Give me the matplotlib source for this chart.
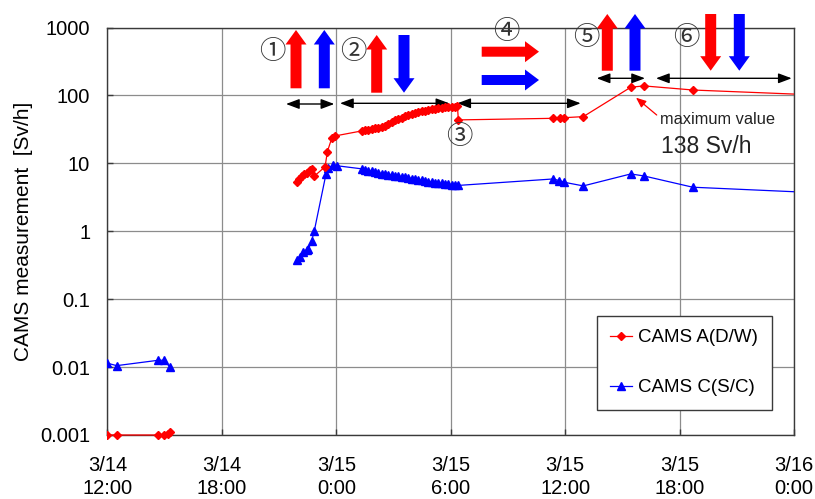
import numpy as np
import matplotlib
matplotlib.use("Agg")
import matplotlib.pyplot as plt
from matplotlib.patches import Polygon
from matplotlib.transforms import Affine2D, Bbox, TransformedBbox

W, H = 815, 499
plt.rcParams["font.family"] = ["Liberation Sans", "DejaVu Sans"]

# Elapsed hours counted from 3/14 0:00; NaN breaks the line where readings are missing
cams_a_hours = [12.0, 12.48, 14.66, 14.98, 15.16, 15.28, np.nan,
                21.92, 22.06, 22.18, 22.32, 22.48, 22.62, 22.71, 22.85, 23.41, 23.53, 23.76, 23.93,
                25.33, 25.50, 25.67, 25.85, 26.03, 26.20, 26.37, 26.55, 26.72, 26.90, 27.07, 27.25,
                27.42, 27.60, 27.77, 27.95, 28.12, 28.30, 28.47, 28.65, 28.82, 29.00, 29.17, 29.35,
                29.52, 29.70, 29.87, 30.05, 30.22, 30.35, 30.40,
                35.38, 35.73, 35.94, 36.95, 39.44, 40.13, 42.72, 49.0]
max_value = 138
cams_a_values = [0.001, 0.001, 0.001, 0.001, 0.00105, 0.0011, np.nan,
                 5.37, 5.9, 6.4, 6.9, 7.3, 8.0, 8.2, 6.5, 8.9, 14.9, 23.4, 25.3,
                 30.0, 30.5, 31.2, 32.0, 32.9, 33.6, 34.3, 35.6, 38.5, 41.2, 43.0, 45.0,
                 47.0, 49.5, 51.6, 53.8, 55.8, 57.3, 58.6, 59.8, 61.2, 62.5, 64.0, 65.2,
                 66.0, 66.6, 67.4, 68.0, 68.6, 69.0, 43.6,
                 46.0, 47.0, 47.0, 48.7, 132.0, max_value, 120.0, 102.0]

cams_c_hours = [12.0, 12.48, 14.66, 14.98, 15.28, np.nan,
                21.92, 22.09, 22.27, 22.45, 22.53, 22.71, 22.84, 23.46, 23.55, 23.84, 24.05,
                25.33, 25.50, 25.67, 25.85, 26.03, 26.20, 26.37, 26.55, 26.72, 26.90, 27.07, 27.25,
                27.42, 27.60, 27.77, 27.95, 28.12, 28.30, 28.47, 28.65, 28.82, 29.00, 29.17, 29.35,
                29.52, 29.70, 29.87, 30.05, 30.22, 30.40,
                35.38, 35.69, 35.94, 36.95, 39.44, 40.13, 42.69, 49.0]
cams_c_values = [0.0114, 0.0105, 0.0126, 0.0126, 0.0099, np.nan,
                 0.377, 0.42, 0.50, 0.53, 0.54, 0.73, 1.0, 7.0, 8.4, 9.5, 9.2,
                 8.3, 8.0, 7.8, 7.6, 7.45, 7.25, 7.05, 6.95, 6.8, 6.7, 6.6, 6.45,
                 6.3, 6.2, 6.1, 5.95, 5.85, 5.75, 5.6, 5.5, 5.4, 5.3, 5.2, 5.12,
                 5.05, 4.98, 4.92, 4.85, 4.8, 4.73,
                 5.89, 5.57, 5.27, 4.65, 6.98, 6.52, 4.45, 3.71]

x_tick_hours = [12, 18, 24, 30, 36, 42, 48]
x_tick_labels = ["3/14\n12:00", "3/14\n18:00", "3/15\n0:00", "3/15\n6:00",
                 "3/15\n12:00", "3/15\n18:00", "3/16\n0:00"]
y_ticks = [0.001, 0.01, 0.1, 1, 10, 100, 1000]
y_tick_labels = ["0.001", "0.01", "0.1", "1", "10", "100", "1000"]

RED = "#ff0000"
BLUE = "#0000ff"
SPINE = "#3a3a3a"
GRID = "#8c8c8c"

fig = plt.figure(figsize=(W / 100, H / 100), dpi=100)
ax = fig.add_axes([107.5 / W, 1 - 435 / H, (794 - 107.5) / W, (435 - 27.5) / H])

line_a, = ax.plot(cams_a_hours, cams_a_values, color=RED, lw=0.9, marker="D", ms=4.3,
                  mec=RED, mfc=RED, label="CAMS A(D/W)", zorder=4)
line_c, = ax.plot(cams_c_hours, cams_c_values, color=BLUE, lw=0.9, marker="^", ms=6.0,
                  mec=BLUE, mfc=BLUE, label="CAMS C(S/C)", zorder=3)

# clip only at the left/right edges so markers sitting on the bottom axis stay whole
clip_region = TransformedBbox(Bbox([[0, -0.05], [1, 1.05]]), ax.transAxes)
for ln in (line_a, line_c):
    ln.set_clip_path(None)
    ln.set_clip_box(clip_region)

ax.set_yscale("log")
ax.set_xlim(12, 48)
ax.set_ylim(0.001, 1000)
ax.set_xticks(x_tick_hours)
ax.set_xticklabels(x_tick_labels, linespacing=1.3)
ax.set_yticks(y_ticks)
ax.set_yticklabels(y_tick_labels)
ax.yaxis.set_minor_locator(matplotlib.ticker.NullLocator())
ax.tick_params(axis="x", direction="in", length=4, width=1, color=SPINE,
               labelsize=14.5, pad=15, top=False)
ax.tick_params(axis="y", direction="in", length=4, width=1, color=SPINE,
               labelsize=14.5, pad=12.5, right=False)
ax.grid(True, which="major", color=GRID, lw=0.9)
ax.set_axisbelow(True)
for s in ax.spines.values():
    s.set_color(SPINE)
    s.set_linewidth(1.0)

ax.set_ylabel("CAMS measurement  [Sv/h]", fontsize=15)
ax.yaxis.set_label_coords(-0.108, 0.5)

leg = ax.legend(loc="upper left", bbox_to_anchor=(0.7126, 0.2928), borderaxespad=0,
                fontsize=13.5, frameon=True, fancybox=False, edgecolor=SPINE,
                framealpha=1, borderpad=0.72, labelspacing=1.75, handlelength=1.15,
                handletextpad=0.35)
leg.get_frame().set_linewidth(1.0)

# pixel-space transform (origin top-left) for the phase annotations
pix = Affine2D().scale(1.0 / W, -1.0 / H).translate(0, 1) + fig.transFigure


def vertical_arrow(xc, y_start, y_tip, color, sw=5.5, hw=10.5, hl=14.5):
    d = 1 if y_tip > y_start else -1
    yb = y_tip - d * hl
    pts = [(xc, y_tip), (xc + hw, yb), (xc + sw, yb), (xc + sw, y_start),
           (xc - sw, y_start), (xc - sw, yb), (xc - hw, yb)]
    fig.add_artist(Polygon(pts, closed=True, facecolor=color, edgecolor="none",
                           transform=pix, clip_on=False, zorder=6))


def horizontal_arrow(yc, x_start, x_tip, color, sw=5.0, hw=10.5, hl=14.0):
    xb = x_tip - hl
    pts = [(x_tip, yc), (xb, yc - hw), (xb, yc - sw), (x_start, yc - sw),
           (x_start, yc + sw), (xb, yc + sw), (xb, yc + hw)]
    fig.add_artist(Polygon(pts, closed=True, facecolor=color, edgecolor="none",
                           transform=pix, clip_on=False, zorder=6))


# phase 1
vertical_arrow(296.0, 88.3, 30.0, RED)
vertical_arrow(324.3, 88.3, 30.0, BLUE)
# phase 2
vertical_arrow(376.7, 92.7, 35.0, RED)
vertical_arrow(404.0, 35.0, 92.7, BLUE)
# phase 4
horizontal_arrow(51.7, 481.7, 539.0, RED)
horizontal_arrow(80.0, 481.7, 539.0, BLUE)
# phase 5
vertical_arrow(607.3, 70.7, 14.0, RED)
vertical_arrow(635.0, 70.7, 14.0, BLUE)
# phase 6
vertical_arrow(710.7, 14.0, 70.7, RED)
vertical_arrow(739.3, 14.0, 70.7, BLUE)

circ_font = ["Noto Sans CJK JP", "DejaVu Sans"]
for label, (px, py) in [("\u2460", (272.7, 51.7)), ("\u2461", (353.3, 51.7)),
                        ("\u2462", (459.3, 136.7)), ("\u2463", (506.7, 31.7)),
                        ("\u2464", (586.7, 37.3)), ("\u2465", (686.7, 37.3))]:
    fig.text(px, py, label, transform=pix, ha="center", va="center",
             fontsize=19, family=circ_font, color="#333333", zorder=7)

# period spans
for (x0, x1, y) in [(286.0, 334.3, 104.0), (340.0, 449.3, 103.3), (457.3, 580.7, 103.3),
                    (596.7, 645.0, 78.3), (656.0, 791.7, 78.3)]:
    ax.annotate("", xy=(x1, y), xytext=(x0, y), xycoords=pix, textcoords=pix,
                arrowprops=dict(arrowstyle="<|-|>,head_length=0.8,head_width=0.3",
                                color="black", lw=1.0, shrinkA=0, shrinkB=0,
                                mutation_scale=10),
                annotation_clip=False)

# maximum reading callout
ax.annotate("", xy=(636.0, 97.7), xytext=(656.7, 115.0), xycoords=pix, textcoords=pix,
            arrowprops=dict(arrowstyle="-|>,head_length=0.6,head_width=0.25",
                            color=RED, lw=0.9, shrinkA=0, shrinkB=0, mutation_scale=10),
            annotation_clip=False)
fig.text(660.0, 120.0, "maximum value", transform=pix, ha="left", va="center",
         fontsize=11.8, color="#222222")
fig.text(661.0, 146.7, f"{max_value} Sv/h", transform=pix, ha="left", va="center",
         fontsize=16.5, color="#222222")

fig.savefig("out.png", dpi=100)
